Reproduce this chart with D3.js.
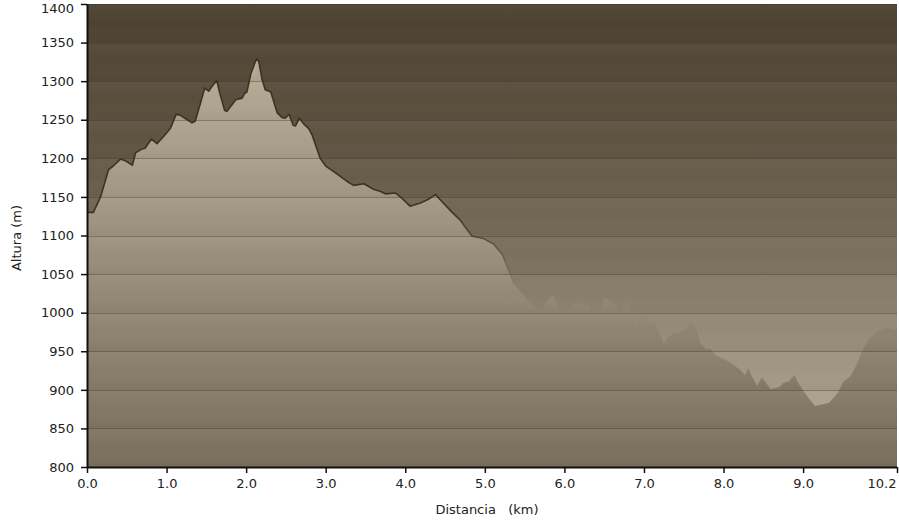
<!DOCTYPE html>
<html><head><meta charset="utf-8">
<script src="https://cdn.jsdelivr.net/npm/d3@7"></script>
<style>html,body{margin:0;padding:0;background:#fff;}svg{display:block;}</style>
</head><body>
<svg id="chart" width="899" height="525"></svg>
<script>
const distKm = [0.00,0.08,0.17,0.27,0.34,0.42,0.48,0.57,0.61,0.69,0.73,0.81,0.88,0.96,1.05,1.12,1.17,1.26,1.32,1.36,1.43,1.48,1.53,1.57,1.63,1.67,1.73,1.76,1.87,1.95,1.98,2.01,2.06,2.13,2.16,2.20,2.24,2.31,2.39,2.45,2.49,2.54,2.59,2.62,2.67,2.72,2.79,2.83,2.93,3.00,3.14,3.27,3.35,3.48,3.60,3.69,3.75,3.88,3.96,4.06,4.19,4.29,4.38,4.46,4.59,4.69,4.78,4.84,4.98,5.11,5.22,5.30,5.36,5.47,5.57,5.68,5.74,5.80,5.86,5.93,6.01,6.07,6.14,6.20,6.26,6.30,6.37,6.45,6.51,6.58,6.66,6.72,6.77,6.82,6.89,6.95,7.02,7.06,7.14,7.25,7.29,7.37,7.48,7.54,7.60,7.66,7.71,7.79,7.83,7.90,7.98,8.06,8.13,8.21,8.27,8.31,8.36,8.42,8.48,8.52,8.59,8.65,8.71,8.75,8.82,8.89,8.94,9.01,9.07,9.15,9.24,9.32,9.38,9.44,9.51,9.59,9.67,9.74,9.82,9.93,10.05,10.14,10.18];
const elevM = [1130,1130,1150,1185,1191,1199,1197,1191,1207,1212,1213,1225,1219,1228,1239,1257,1256,1250,1246,1248,1273,1291,1287,1293,1301,1284,1262,1261,1276,1278,1284,1286,1310,1329,1325,1302,1289,1286,1259,1253,1252,1257,1243,1242,1252,1245,1238,1230,1200,1190,1180,1170,1165,1167,1160,1157,1154,1155,1148,1138,1142,1147,1153,1144,1130,1120,1107,1099,1096,1089,1075,1055,1038,1025,1012,1004,1006,1017,1023,1008,999,1004,1013,1012,1008,1011,997,1006,1019,1014,1008,999,1014,1008,984,993,993,990,986,960,967,973,975,982,990,978,960,952,954,945,941,937,932,926,919,928,917,905,916,911,901,902,904,909,911,919,909,898,889,879,881,883,889,897,911,917,932,950,965,975,981,978,978];
const yTickValues = [800,850,900,950,1000,1050,1100,1150,1200,1250,1300,1350,1400];
const xTickValues = [0,1,2,3,4,5,6,7,8,9,10.18];
const xTitle = "Distancia\u00a0\u00a0\u00a0(km)";
const yTitle = "Altura (m)";

(function(){
const svg = d3.select("#chart");
const pL = 87, pR = 897, pT = 4, pB = 467;
const x = d3.scaleLinear().domain([0, 10.18]).range([pL, pR]);
const y = d3.scaleLinear().domain([800, 1400]).range([pB, pT]);
const data = distKm.map((d, i) => ({d, e: elevM[i]}));

const defs = svg.append("defs");
const bg = defs.append("linearGradient").attr("id","bg").attr("gradientUnits","userSpaceOnUse")
  .attr("x1",0).attr("y1",pT).attr("x2",0).attr("y2",pB);
[[0,"#4b402f"],[0.3,"#5f5442"],[0.55,"#7c715d"],[0.72,"#978c78"],[0.86,"#aba08c"],[1,"#a39884"]]
  .forEach(([o,c]) => bg.append("stop").attr("offset",o).attr("stop-color",c));
const ar = defs.append("linearGradient").attr("id","ar").attr("gradientUnits","userSpaceOnUse")
  .attr("x1",0).attr("y1",50).attr("x2",0).attr("y2",pB);
[[0,"#b6ab96"],[0.35,"#a39883"],[0.65,"#8f8470"],[1,"#7a6f5b"]]
  .forEach(([o,c]) => ar.append("stop").attr("offset",o).attr("stop-color",c));
const ln = defs.append("linearGradient").attr("id","ln").attr("gradientUnits","userSpaceOnUse")
  .attr("x1",0).attr("y1",y(1130)).attr("x2",0).attr("y2",y(1030));
ln.append("stop").attr("offset",0).attr("stop-color","#3a2f1f").attr("stop-opacity",0.95);
ln.append("stop").attr("offset",1).attr("stop-color","#3a2f1f").attr("stop-opacity",0);
const band = defs.append("linearGradient").attr("id","band").attr("x1",0).attr("y1",0).attr("x2",0).attr("y2",1);
band.append("stop").attr("offset",0).attr("stop-color","#fff").attr("stop-opacity",0.05);
band.append("stop").attr("offset",0.5).attr("stop-color","#fff").attr("stop-opacity",0);
band.append("stop").attr("offset",1).attr("stop-color","#000").attr("stop-opacity",0.04);

svg.append("rect").attr("x",pL).attr("y",pT).attr("width",pR-pL).attr("height",pB-pT).attr("fill","url(#bg)");

const area = d3.area().x(p => x(p.d)).y0(pB).y1(p => y(p.e));
svg.append("path").datum(data).attr("d",area).attr("fill","url(#ar)");

svg.append("g").selectAll("rect").data(yTickValues.slice(0,-1)).join("rect")
  .attr("x",pL).attr("width",pR-pL)
  .attr("y",v => y(v+50)).attr("height",v => y(v)-y(v+50)).attr("fill","url(#band)");

svg.append("g").selectAll("line").data(yTickValues.slice(1)).join("line")
  .attr("x1",pL).attr("x2",pR).attr("y1",v => Math.round(y(v))+0.5).attr("y2",v => Math.round(y(v))+0.5)
  .attr("stroke","#3e3424").attr("stroke-opacity",0.4).attr("stroke-width",1);

const line = d3.line().x(p => x(p.d)).y(p => y(p.e));
svg.append("path").datum(data).attr("d",line).attr("fill","none").attr("stroke","url(#ln)").attr("stroke-width",1.6).attr("stroke-linejoin","round");

const font = "DejaVu Sans, Verdana, sans-serif";
const yAxis = svg.append("g").attr("transform",`translate(${pL},0)`)
  .call(d3.axisLeft(y).tickValues(yTickValues).tickFormat(d3.format("d")).tickSize(6).tickPadding(7));
const xAxis = svg.append("g").attr("transform",`translate(0,${pB})`)
  .call(d3.axisBottom(x).tickValues(xTickValues).tickFormat(d3.format(".1f")).tickSize(6).tickPadding(6));
[yAxis,xAxis].forEach(g => {
  g.selectAll(".domain").attr("stroke","#111").attr("stroke-width",2);
  g.selectAll(".tick line").attr("stroke","#111").attr("stroke-width",1.5);
  g.selectAll("text").attr("fill","#222").style("font-family",font).style("font-size","13px");
});
xAxis.selectAll(".domain").attr("d",`M${pL},0.5H${pR}`);
yAxis.selectAll(".domain").attr("d",`M0.5,${pT}V${pB}`);
yAxis.selectAll(".tick").filter(v => v === 1400).select("text").attr("y",4);
xAxis.selectAll(".tick").filter(v => v === 10.18).select("text").attr("text-anchor","end").attr("x",-1);

svg.append("text").attr("x",487).attr("y",514).attr("text-anchor","middle")
  .style("font-family",font).style("font-size","13px").attr("fill","#222").text(xTitle);
svg.append("text").attr("transform","translate(21,238) rotate(-90)").attr("text-anchor","middle")
  .style("font-family",font).style("font-size","13px").attr("fill","#222").text(yTitle);
})();
</script>
</body></html>
